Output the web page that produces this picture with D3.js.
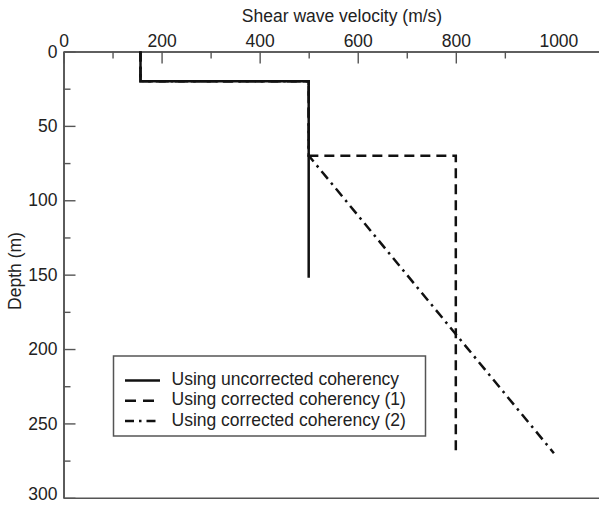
<!DOCTYPE html>
<html>
<head>
<meta charset="utf-8">
<script src="https://cdn.jsdelivr.net/npm/d3@7"></script>
<style>
  html, body { margin: 0; padding: 0; background: #fff; }
  svg { display: block; }
  text { font-family: "Liberation Sans", Arial, sans-serif; fill: #222; }
</style>
</head>
<body>
<svg id="chart" width="599" height="506"></svg>
<script>
// ---- data ----
const xTitle = "Shear wave velocity (m/s)";
const yTitle = "Depth (m)";
const xMajorTicks = [0, 200, 400, 600, 800, 1000];
const xMinorTicks = [100, 300, 500, 700, 900];
const yMajorTicks = [0, 50, 100, 150, 200, 250, 300];
const yMinorTicks = [25, 75, 125, 175, 225, 275];

const seriesNames = ["Using uncorrected coherency", "Using corrected coherency (1)", "Using corrected coherency (2)"];
const uncorrectedVelocity = [157, 157, 500, 500];
const uncorrectedDepth    = [0, 20, 20, 152];
const corrected1Velocity  = [157, 157, 500, 500, 800, 800];
const corrected1Depth     = [0, 20, 20, 70, 70, 270];
const corrected2Velocity  = [157, 157, 500, 500, 1000];
const corrected2Depth     = [0, 20, 20, 70, 270];

// ---- layout ----
const svg = d3.select("#chart");
const x = d3.scaleLinear().domain([0, 1092]).range([63.5, 599]);
const y = d3.scaleLinear().domain([0, 300]).range([51.5, 497.8]);
const axisColor = "#555";
const fontSize = "17.5px";

function styleAxis(g) {
  g.selectAll("path.domain").attr("stroke", axisColor).attr("stroke-width", 1.6);
  g.selectAll(".tick line").attr("stroke", axisColor).attr("stroke-width", 1.4);
  g.selectAll(".tick text").style("font-size", fontSize).attr("fill", "#222")
    .style("font-family", '"Liberation Sans", Arial, sans-serif');
}

// top x axis (major with labels, ticks pointing into plot)
const majorX = xMajorTicks.filter(v => v < 1000);
const gxMinor = svg.append("g").attr("transform", `translate(0,${y(0)})`)
  .call(d3.axisTop(x).tickValues(xMinorTicks).tickSizeInner(-7).tickSizeOuter(0).tickFormat(""));
styleAxis(gxMinor);
const gx = svg.append("g").attr("transform", `translate(0,${y(0)})`)
  .call(d3.axisTop(x).tickValues(majorX).tickSizeInner(-12).tickSizeOuter(0).tickPadding(5).tickFormat(d3.format("d")));
styleAxis(gx);
// label for 1000 (no tick drawn in the original)
svg.append("text").attr("x", x(1000) + 5).attr("y", y(0) - 5)
  .attr("text-anchor", "middle").style("font-size", fontSize).text("1000");

// left y axis
const gyMinor = svg.append("g").attr("transform", `translate(${x(0)},0)`)
  .call(d3.axisLeft(y).tickValues(yMinorTicks).tickSizeInner(-7).tickSizeOuter(0).tickFormat(""));
styleAxis(gyMinor);
const gy = svg.append("g").attr("transform", `translate(${x(0)},0)`)
  .call(d3.axisLeft(y).tickValues(yMajorTicks).tickSizeInner(-12).tickSizeOuter(0).tickPadding(6).tickFormat(d3.format("d")));
styleAxis(gy);
// keep the bottom label inside the canvas
gy.selectAll(".tick text").filter(d => d === 300).attr("dy", "0.12em");

// bottom line
const gb = svg.append("g").attr("transform", `translate(0,${y(300)})`)
  .call(d3.axisBottom(x).tickValues([]).tickSizeOuter(0));
styleAxis(gb);

// axis titles
svg.append("text").attr("x", 342).attr("y", 22).attr("text-anchor", "middle")
  .style("font-size", fontSize).text(xTitle);
svg.append("text").attr("transform", `translate(21,${271}) rotate(-90)`)
  .attr("text-anchor", "middle").style("font-size", fontSize).text(yTitle);

// ---- series ----
const line = d3.line().x(d => x(d[0])).y(d => y(d[1]));
const series = [
  { v: uncorrectedVelocity, d: uncorrectedDepth, dash: null },
  { v: corrected1Velocity, d: corrected1Depth, dash: "10,6" },
  { v: corrected2Velocity, d: corrected2Depth, dash: "10,5,2.5,5" }
];
series.forEach(s => {
  svg.append("path")
    .datum(s.v.map((v, i) => [v, s.d[i]]))
    .attr("d", line)
    .attr("fill", "none")
    .attr("stroke", "#111")
    .attr("stroke-width", 2.5)
    .attr("stroke-dasharray", s.dash);
});

// ---- legend ----
const lg = svg.append("g");
lg.append("rect").attr("x", 113.5).attr("y", 356).attr("width", 312).attr("height", 80)
  .attr("fill", "#fff").attr("stroke", axisColor).attr("stroke-width", 1.5);
const legendDash = [null, "11,7", "9,5,2.5,5"];
seriesNames.forEach((name, i) => {
  const by = 385 + i * 20.3;
  lg.append("line").attr("x1", 125).attr("x2", 160).attr("y1", by - 4.5).attr("y2", by - 4.5)
    .attr("stroke", "#111").attr("stroke-width", 2.5).attr("stroke-dasharray", legendDash[i]);
  lg.append("text").attr("x", 171.5).attr("y", by).style("font-size", fontSize).text(name);
});
</script>
</body>
</html>
